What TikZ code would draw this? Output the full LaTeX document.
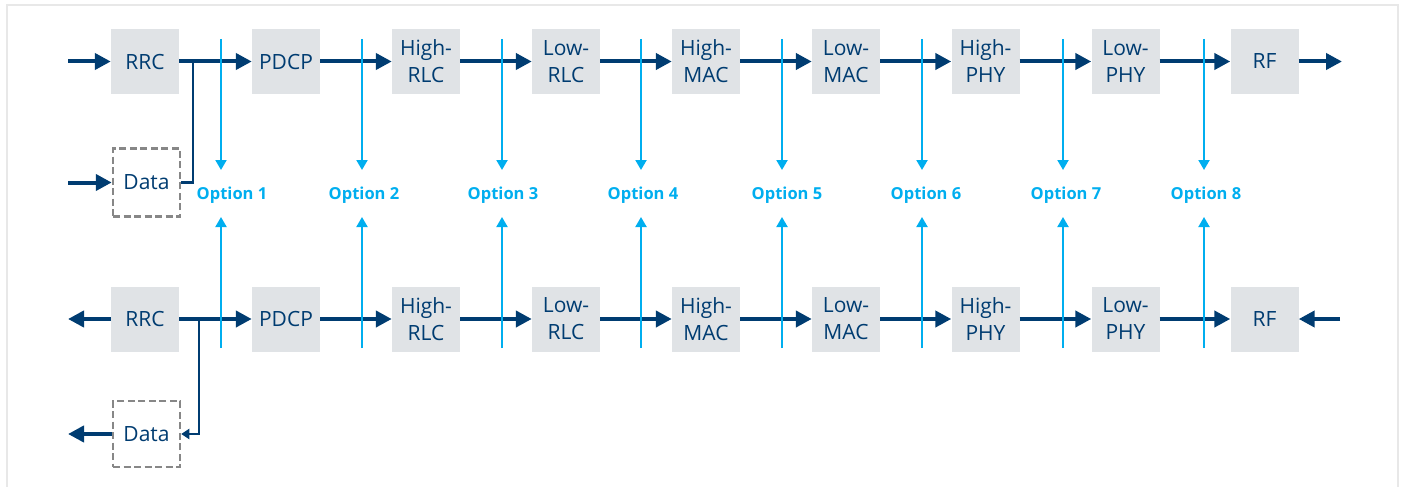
\documentclass[tikz,border=0pt]{standalone}
\usepackage{fontspec}
\setmainfont{Open Sans}
\usetikzlibrary{arrows.meta}
\definecolor{navy}{RGB}{0,60,113}
\definecolor{optblue}{RGB}{0,174,239}
\definecolor{boxgray}{RGB}{224,227,230}
\definecolor{dashgray}{RGB}{135,135,135}
\definecolor{framegray}{RGB}{232,232,232}
\tikzset{
  blk/.style={fill=boxgray, minimum width=68pt, minimum height=65pt, inner sep=0pt,
    text=navy, align=center, font=\fontsize{21}{27}\selectfont},
  databox/.style={draw=dashgray, line width=2.5pt, dash pattern=on 7pt off 3.5pt, fill=white,
    minimum width=67pt, minimum height=68pt, inner sep=0pt, text=navy,
    font=\fontsize{21}{27}\selectfont},
  flow/.style={draw=navy, line width=4pt, -{Triangle[length=16pt,width=16pt]}},
  branch/.style={draw=navy, line width=2.2pt},
  optarr/.style={draw=optblue, line width=2pt, -{Triangle[length=10pt,width=11pt]}},
  optlabel/.style={text=optblue, font=\fontsize{16.5}{19}\bfseries\selectfont, inner sep=0pt, anchor=base}
}
\begin{document}
\begin{tikzpicture}[x=1pt,y=-1pt]
\useasboundingbox (0,0) rectangle (1403,487);
\draw[framegray, line width=1.2pt] (7,487) -- (7,5) -- (1398,5) -- (1398,487);

% ---------- top row ----------
\node[blk] (tRRC)  at (145,61.5) {RRC};
\node[blk] (tPDCP) at (286,61.5) {PDCP};
\node[blk] (tHRLC) at (426,61.5) {High-\\RLC};
\node[blk] (tLRLC) at (566,61.5) {Low-\\RLC};
\node[blk] (tHMAC) at (706,61.5) {High-\\MAC};
\node[blk] (tLMAC) at (846,61.5) {Low-\\MAC};
\node[blk] (tHPHY) at (985.5,61.5) {High-\\PHY};
\node[blk] (tLPHY) at (1125.5,61.5) {Low-\\PHY};
\node[blk] (tRF)   at (1264.5,61.5) {RF};
\node[databox] (tData) at (146.5,182.5) {Data};

\coordinate (tIn) at (68,61.5);
\coordinate (tDIn) at (68,182.5);
\coordinate (tOut) at (1342,61.5);
\coordinate (tBr) at (193,61.5);

\draw[flow] (tIn) -- (tRRC.west);
\draw[flow] (tDIn) -- (tData.west);
\draw[branch] (tData.east) -| (tBr);
\draw[flow] (tRRC.east) -- (tPDCP.west);
\draw[flow] (tPDCP.east) -- (tHRLC.west);
\draw[flow] (tHRLC.east) -- (tLRLC.west);
\draw[flow] (tLRLC.east) -- (tHMAC.west);
\draw[flow] (tHMAC.east) -- (tLMAC.west);
\draw[flow] (tLMAC.east) -- (tHPHY.west);
\draw[flow] (tHPHY.east) -- (tLPHY.west);
\draw[flow] (tLPHY.east) -- (tRF.west);
\draw[flow] (tRF.east) -- (tOut);

% ---------- bottom row ----------
\node[blk] (bRRC)  at (145,319) {RRC};
\node[blk] (bPDCP) at (286,319) {PDCP};
\node[blk] (bHRLC) at (426,319) {High-\\RLC};
\node[blk] (bLRLC) at (566,319) {Low-\\RLC};
\node[blk] (bHMAC) at (706,319) {High-\\MAC};
\node[blk] (bLMAC) at (846,319) {Low-\\MAC};
\node[blk] (bHPHY) at (985.5,319) {High-\\PHY};
\node[blk] (bLPHY) at (1125.5,319) {Low-\\PHY};
\node[blk] (bRF)   at (1264.5,319) {RF};
\node[databox, minimum height=66pt] (bData) at (146.5,434) {Data};

\coordinate (bOut) at (68,319);
\coordinate (bDOut) at (68,434);
\coordinate (bIn) at (1340,319);
\coordinate (bBr) at (199,319);

\draw[flow] (bRRC.west) -- (bOut);
\draw[flow] (bData.west) -- (bDOut);
\draw[flow] (bRRC.east) -- (bPDCP.west);
\draw[branch, -{Triangle[length=8pt,width=10pt]}] (bBr) |- (bData.east);
\draw[flow] (bPDCP.east) -- (bHRLC.west);
\draw[flow] (bHRLC.east) -- (bLRLC.west);
\draw[flow] (bLRLC.east) -- (bHMAC.west);
\draw[flow] (bHMAC.east) -- (bLMAC.west);
\draw[flow] (bLMAC.east) -- (bHPHY.west);
\draw[flow] (bHPHY.east) -- (bLPHY.west);
\draw[flow] (bLPHY.east) -- (bRF.west);
\draw[flow] (bIn) -- (bRF.east);

% ---------- options ----------
\foreach \i/\x/\lx in {1/221/232,2/362/364,3/502/503,4/641/643,5/782/787,6/922/926,7/1063/1066,8/1204/1206}{
  \node[optlabel] (opt\i) at (\lx,199) {Option \i};
  \coordinate (ot\i) at (\x,39);
  \coordinate (oa\i) at (\x,170);
  \coordinate (ob\i) at (\x,348);
  \coordinate (oc\i) at (\x,217);
  \draw[optarr] (ot\i) -- (oa\i);
  \draw[optarr] (ob\i) -- (oc\i);
}
\end{tikzpicture}
\end{document}
